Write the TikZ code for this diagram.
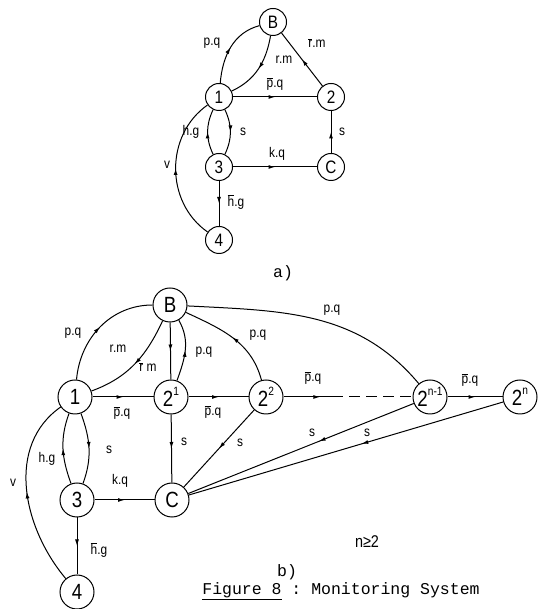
\documentclass[tikz,border=0pt]{standalone}
\usepackage{fontspec}
\setmainfont{Liberation Sans}[FakeStretch=0.85]
\setmonofont{Liberation Mono}
\usetikzlibrary{decorations.markings,arrows.meta}
\newcommand{\obar}[1]{\ensuremath{\overline{\hbox{#1}}}}
\newcommand{\tsup}[1]{\raisebox{0.5em}{\fontsize{12}{12}\selectfont #1}}
\tikzset{
  st/.style={circle,draw,line width=1pt,minimum size=27pt,inner sep=0pt,font=\fontsize{18}{18}\selectfont},
  stb/.style={circle,draw,line width=1pt,minimum size=34pt,inner sep=0pt,font=\fontsize{22}{22}\selectfont},
  ed/.style={line width=1pt},
  mid/.style={ed,postaction={decorate},decoration={markings,mark=at position #1 with {\arrow{Latex[length=6.5pt,width=4pt]}}}},
  mid/.default=0.5,
  lbl/.style={inner sep=0pt,font=\fontsize{14}{14}\selectfont},
  captxt/.style={inner sep=0pt,font=\ttfamily\fontsize{16.5}{16.5}\selectfont}
}
\begin{document}
\begin{tikzpicture}[x=1pt,y=1pt]
\useasboundingbox (0,0) rectangle (541,609);
% ---------- part a ----------
\node[st] (aB) at (273,587) {B};
\node[st] (a1) at (219,512) {1};
\node[st] (a2) at (331,512) {2};
\node[st] (a3) at (219,442) {3};
\node[st] (aC) at (331,442) {C};
\node[st] (a4) at (219,369) {4};
\draw[mid] (a1) to[out=85,in=195] (aB);
\draw[mid] (aB) to[out=-100,in=25] (a1);
\draw[mid] (a2) -- (aB);
\draw[mid] (a1) -- (a2);
\draw[mid] (aC) -- (a2);
\draw[mid] (a3) to[out=115,in=-115] (a1);
\draw[mid] (a1) to[out=-65,in=65] (a3);
\draw[mid] (a3) -- (aC);
\draw[mid] (a3) -- (a4);
\draw[mid] (a4) to[out=145,in=215,looseness=1.05] (a1);
\node[lbl] (la1) at (212,566) {p.q};
\node[lbl] (la2) at (284,549) {r.m};
\node[lbl] (la3) at (317,566) {\obar{r}.m};
\node[lbl] (la4) at (275,525) {\obar{p}.q};
\node[lbl] (la5) at (191,477) {h.g};
\node[lbl] (la6) at (243,477) {s};
\node[lbl] (la7) at (342,477) {s};
\node[lbl] (la8) at (277,455) {k.q};
\node[lbl] (la9) at (236,407) {\obar{h}.g};
\node[lbl] (la10) at (167,444) {v};
\node[captxt] (capa) at (283,336) {a)};
% ---------- part b ----------
\node[stb] (B) at (170,304) {B};
\node[stb] (b1) at (75,212) {1};
\node[stb] (b21) at (171,212) {2\tsup{1}};
\node[stb] (b22) at (266,212) {2\tsup{2}};
\node[stb] (b2n1) at (430,212) {2\tsup{n-1}};
\node[stb] (b2n) at (520,212) {2\tsup{n}};
\node[stb] (b3) at (77,109) {3};
\node[stb] (bC) at (172,109) {C};
\node[stb] (b4) at (77,17) {4};
\coordinate (dm) at (332,212);
\draw[mid] (b1) to[out=85,in=180] (B);
\draw[mid] (B) to[out=-115,in=20] (b1);
\draw[mid] (B) -- (b21);
\draw[mid] (b21) to[out=70,in=-60] (B);
\draw[mid] (b22) to[out=105,in=-25] (B);
\draw[ed] (B) to[out=-3,in=130] (b2n1);
\draw[mid] (b1) -- (b21);
\draw[mid] (b21) -- (b22);
\draw[mid=0.75] (b22) -- (dm);
\draw[ed,dash pattern=on 11pt off 6pt] (dm) -- (b2n1);
\draw[mid] (b2n1) -- (b2n);
\draw[mid] (b1) to[out=-70,in=70] (b3);
\draw[mid] (b3) to[out=110,in=-110] (b1);
\draw[mid] (b3) -- (bC);
\draw[mid] (b3) -- (b4);
\draw[mid] (b4) to[out=130,in=215,looseness=1.0] (b1);
\draw[mid] (b21) -- (bC);
\draw[mid] (b22) -- (bC);
\draw[mid=0.42] (b2n1) -- (bC);
\draw[mid=0.45] (b2n) -- (bC);
\node[lbl] (l1) at (73,276) {p.q};
\node[lbl] (l2) at (118,260) {r.m};
\node[lbl] (l3) at (148,242) {\obar{r} m};
\node[lbl] (l4) at (204,257) {p.q};
\node[lbl] (l5) at (258,274) {p.q};
\node[lbl] (l6) at (332,299) {p.q};
\node[lbl] (l7) at (122,196) {\obar{p}.q};
\node[lbl] (l8) at (213,197) {\obar{p}.q};
\node[lbl] (l9) at (313,231) {\obar{p}.q};
\node[lbl] (l10) at (470,229) {\obar{p}.q};
\node[lbl] (l11) at (184,167) {s};
\node[lbl] (l12) at (240,166) {s};
\node[lbl] (l13) at (312,176) {s};
\node[lbl] (l14) at (367,176) {s};
\node[lbl] (l15) at (109,159) {s};
\node[lbl] (l16) at (47,150) {h.g};
\node[lbl] (l17) at (13,126) {v};
\node[lbl] (l18) at (120,128) {k.q};
\node[lbl] (l19) at (99,59) {\obar{h}.g};
\node[lbl,font=\fontsize{17}{17}\selectfont] (l20) at (367,67) {n≥2};
\node[captxt] (capb) at (287,37) {b)};
\node[captxt] (capt) at (341,18) {\underline{Figure 8} : Monitoring System};
\end{tikzpicture}
\end{document}
